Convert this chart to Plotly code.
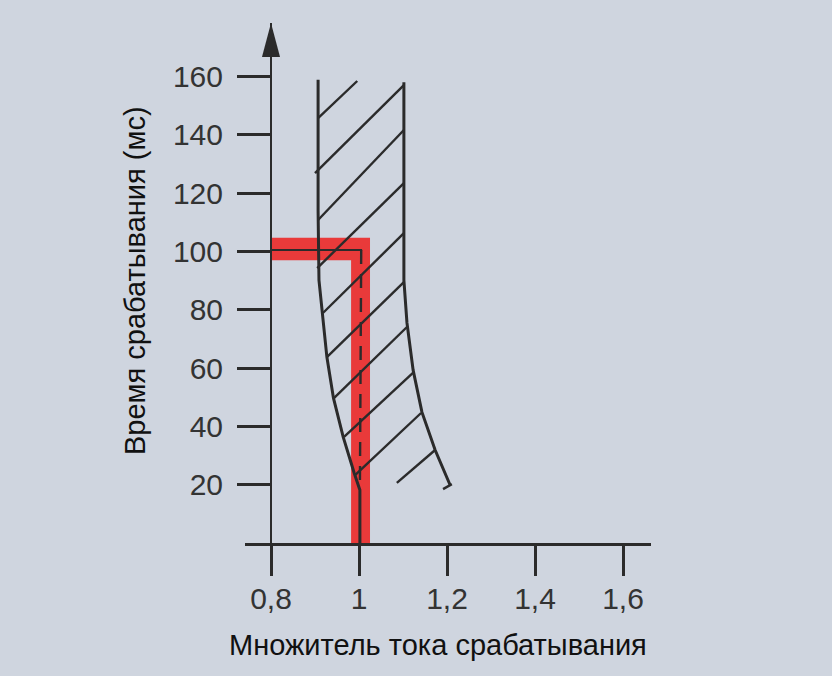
import plotly.graph_objects as go

# ---- data ----
x_tick_vals = [0.8, 1.0, 1.2, 1.4, 1.6]
x_tick_text = ["0,8", "1", "1,2", "1,4", "1,6"]
y_tick_vals = [20, 40, 60, 80, 100, 120, 140, 160]

# left boundary of the tolerance band (multiplier, ms)
left_x = [0.907, 0.907, 0.909, 0.916, 0.927, 0.942, 0.964, 0.989, 1.002, 1.002]
left_y = [158.9, 114.0, 90.2, 78.9, 63.8, 49.7, 36.4, 24.0, 18.2, 0.0]

# right boundary of the tolerance band
right_x = [1.102, 1.102, 1.109, 1.123, 1.143, 1.173, 1.207]
right_y = [158.1, 90.2, 75.5, 59.3, 44.9, 31.9, 19.9]

# hatch segments (start, end)
hatch_x0 = [0.907, 0.900, 0.907, 0.905, 0.918, 0.927, 0.943, 0.966, 0.991, 1.086, 1.191]
hatch_y0 = [145.8, 126.9, 110.8, 94.3, 78.9, 63.8, 49.7, 36.4, 23.3, 20.6, 18.5]
hatch_x1 = [0.996, 1.102, 1.102, 1.102, 1.102, 1.102, 1.109, 1.125, 1.141, 1.173, 1.211]
hatch_y1 = [158.5, 157.1, 141.7, 123.5, 106.3, 89.5, 74.1, 58.7, 44.6, 31.9, 20.2]

# red setting characteristic (inverted L), polygon
red_x = [0.802, 1.025, 1.025, 0.982, 0.982, 0.802]
red_y = [104.7, 104.7, 0.0, 0.0, 97.0, 97.0]

# black setting lines
set_h_x = [0.8, 1.007]
set_h_y = [100.5, 100.5]
set_v_x = [1.005, 1.002]
set_v_y = [100.5, 18.2]

# ---- layout constants ----
W, H = 832, 676
X_LEFT, X_RIGHT = 0.7409, 1.6636
Y_TOP = 178.4
BG = "#cfd5df"
INK = "#2b2b2b"

hx, hy = [], []
for a, b, c, d in zip(hatch_x0, hatch_y0, hatch_x1, hatch_y1):
    hx += [a, c, None]
    hy += [b, d, None]

fig = go.Figure()
fig.add_trace(go.Scatter(x=red_x, y=red_y, mode="lines", fill="toself",
                         fillcolor="#e93a3a", line=dict(width=0, color="#e93a3a"),
                         hoverinfo="skip"))
fig.add_trace(go.Scatter(x=hx, y=hy, mode="lines", line=dict(color=INK, width=2.4),
                         hoverinfo="skip"))
fig.add_trace(go.Scatter(x=left_x, y=left_y, mode="lines", line=dict(color=INK, width=3),
                         hoverinfo="skip"))
fig.add_trace(go.Scatter(x=right_x, y=right_y, mode="lines", line=dict(color=INK, width=3),
                         hoverinfo="skip"))
fig.add_trace(go.Scatter(x=set_h_x, y=set_h_y, mode="lines", line=dict(color=INK, width=2),
                         hoverinfo="skip"))
fig.add_trace(go.Scatter(x=set_v_x, y=set_v_y, mode="lines",
                         line=dict(color=INK, width=2.4, dash="14px,10px"),
                         hoverinfo="skip"))

# arrow head on the y axis
aw = 0.0205
fig.add_shape(type="path", xref="x", yref="y",
              path=f"M {0.8-aw},{Y_TOP-11.7} L {0.8},{Y_TOP} L {0.8+aw},{Y_TOP-11.7} Z",
              fillcolor=INK, line=dict(width=0))

tick_font = dict(family="Liberation Sans, Arial, sans-serif", size=30, color="#333333")

fig.update_layout(
    width=W, height=H,
    margin=dict(l=245, r=181, t=23, b=133),
    paper_bgcolor=BG, plot_bgcolor=BG,
    showlegend=False,
    xaxis=dict(range=[X_LEFT, X_RIGHT], showgrid=False, zeroline=False,
               showline=True, linecolor=INK, linewidth=3,
               tickmode="array", tickvals=x_tick_vals, ticktext=x_tick_text,
               ticks="outside", ticklen=30, tickwidth=3, tickcolor=INK,
               tickfont=tick_font, ticklabelstandoff=-3, fixedrange=True),
    yaxis=dict(range=[0, Y_TOP], showgrid=False, zeroline=False,
               anchor="free", position=26/406,
               showline=True, linecolor=INK, linewidth=2,
               tickmode="array", tickvals=y_tick_vals,
               ticks="outside", ticklen=33, tickwidth=3, tickcolor=INK,
               tickfont=tick_font, ticklabelstandoff=8, fixedrange=True),
)

title_font = dict(family="Liberation Sans, Arial, sans-serif", size=29, color="#111111")
fig.add_annotation(text="Множитель тока срабатывания", xref="paper", yref="paper",
                   x=(438-245)/406, y=-(645-543)/520, xanchor="center", yanchor="middle",
                   showarrow=False, font=title_font)
fig.add_annotation(text="Время срабатывания (мс)", xref="paper", yref="paper",
                   x=(135-245)/406, y=(543-281)/520, xanchor="center", yanchor="middle",
                   textangle=-90, showarrow=False, font=title_font)

fig.write_html("out.html", config={"displayModeBar": False},
               post_script="document.body.style.margin='0';document.body.style.padding='0';")
